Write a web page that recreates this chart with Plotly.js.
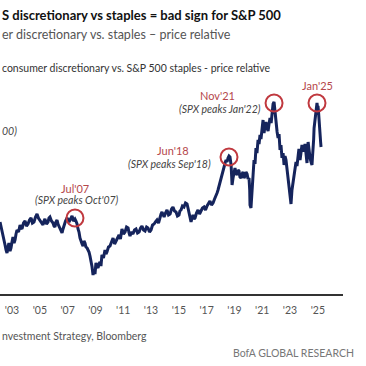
<!DOCTYPE html>
<html>
<head>
<meta charset="utf-8">
<script src="https://cdn.plot.ly/plotly-3.0.1.min.js"></script>
<style>
html,body{margin:0;padding:0;background:#fff;}
#chart{width:366px;height:366px;}
</style>
</head>
<body>
<div id="chart"></div>
<script>
// Relative price: consumer discretionary vs staples (arbitrary index units)
const years = [
2002.14,2002.21,2002.28,2002.35,2002.42,2002.50,2002.57,2002.64,2002.71,2002.78,
2002.86,2002.93,2003.00,2003.07,2003.15,2003.22,2003.29,2003.36,2003.47,2003.58,
2003.65,2003.72,2003.83,2003.94,2004.04,2004.15,2004.26,2004.37,2004.47,2004.58,
2004.69,2004.80,2004.90,2005.01,2005.12,2005.23,2005.30,2005.37,2005.48,2005.59,
2005.66,2005.73,2005.84,2005.95,2006.02,2006.09,2006.16,2006.24,2006.31,2006.38,
2006.49,2006.60,2006.67,2006.74,2006.85,2006.96,2007.03,2007.10,2007.21,2007.32,
2007.42,2007.53,2007.60,2007.68,2007.75,2007.82,2007.89,2007.96,2008.04,2008.11,
2008.18,2008.25,2008.32,2008.40,2008.47,2008.54,2008.61,2008.68,2008.76,2008.83,
2008.90,2008.97,2009.04,2009.12,2009.19,2009.26,2009.33,2009.40,2009.47,2009.58,
2009.69,2009.76,2009.83,2009.94,2010.05,2010.16,2010.27,2010.38,2010.48,2010.59,
2010.70,2010.80,2010.91,2011.02,2011.13,2011.24,2011.35,2011.42,2011.49,2011.59,
2011.70,2011.81,2011.92,2012.03,2012.14,2012.25,2012.35,2012.46,2012.57,2012.68,
2012.78,2012.89,2013.00,2013.11,2013.22,2013.32,2013.43,2013.54,2013.65,2013.72,
2013.79,2013.86,2013.94,2014.04,2014.15,2014.26,2014.37,2014.48,2014.58,2014.69,
2014.80,2014.90,2015.01,2015.08,2015.16,2015.26,2015.37,2015.48,2015.59,2015.66,
2015.73,2015.80,2015.88,2015.95,2016.02,2016.10,2016.17,2016.27,2016.38,2016.49,
2016.60,2016.70,2016.81,2016.92,2017.03,2017.14,2017.24,2017.35,2017.46,2017.57,
2017.68,2017.75,2017.82,2017.89,2017.96,2018.04,2018.11,2018.18,2018.25,2018.33,
2018.40,2018.47,2018.54,2018.61,2018.68,2018.72,2018.76,2018.80,2018.83,2018.87,
2018.90,2018.97,2019.04,2019.11,2019.19,2019.26,2019.33,2019.40,2019.47,2019.55,
2019.62,2019.69,2019.76,2019.83,2019.91,2019.98,2020.05,2020.10,2020.12,2020.19,
2020.23,2020.27,2020.34,2020.41,2020.48,2020.55,2020.62,2020.70,2020.77,2020.84,
2020.91,2020.99,2021.06,2021.10,2021.13,2021.20,2021.27,2021.35,2021.42,2021.49,
2021.56,2021.64,2021.71,2021.78,2021.85,2021.92,2021.99,2022.07,2022.14,2022.21,
2022.28,2022.35,2022.42,2022.50,2022.57,2022.64,2022.71,2022.78,2022.86,2022.93,
2023.00,2023.07,2023.14,2023.21,2023.29,2023.36,2023.43,2023.50,2023.57,2023.64,
2023.72,2023.79,2023.86,2023.93,2024.01,2024.08,2024.15,2024.22,2024.30,2024.37,
2024.44,2024.51,2024.58,2024.62,2024.66,2024.70,2024.73,2024.80,2024.87,2024.94,
2024.98,2025.01,2025.05,2025.09,2025.13,2025.16,2025.20,2025.23
];
const relative = [
72,68,64,60,54,49,44,41,47,51,
43,46,52,57,51,54,60,64,62,69,
66,65,71,73,68,70,74,76,71,72,
77,80,76,74,71,69,73,75,70,72,
76,77,73,71,68,67,72,74,70,68,
64,61,65,69,73,76,74,72,75,78,
73,75,73,70,65,62,56,52,50,48,
53,51,47,46,44,42,38,34,27,19,
24,20,31,28,26,30,32,28,39,36,
44,40,42,47,48,52,56,50,53,57,
59,55,65,60,62,67,66,61,58,62,
60,64,65,61,62,66,68,64,63,67,
66,62,64,69,70,72,74,71,78,80,
82,79,77,81,84,79,80,85,87,83,
82,78,79,83,84,88,87,91,90,86,
81,76,72,76,79,75,76,81,84,80,
83,86,87,84,88,91,93,89,91,95,
98,101,104,108,112,115,118,124,129,131,
134,132,136,138,137,133,129,118,109,113,
116,122,126,121,119,124,123,117,116,120,
122,116,118,122,120,115,116,104,89,86,
97,109,120,134,130,146,141,154,150,159,
155,169,174,165,161,168,172,166,163,170,
176,171,182,190,192,182,168,162,156,160,
144,149,136,141,129,138,134,125,116,104,
94,90,104,112,119,125,132,128,139,145,
134,140,149,143,144,150,137,131,152,143,
136,132,129,138,144,155,166,176,184,191,
186,188,182,176,165,159,152,147
];
const peakYears = [2007.53, 2018.61, 2021.85, 2024.94];
const peakValues = [76, 137, 191, 191];
const peakMonths = ["Jul'07", "Jun'18", "Nov'21", "Jan'25"];
const spxPeaks = ["(SPX peaks Oct'07)", "(SPX peaks Sep'18)", "(SPX peaks Jan'22)", ""];
const tickYears = [2003,2005,2007,2009,2011,2013,2015,2017,2019,2021,2023,2025];
const tickLabels = ["'03","'05","'07","'09","'11","'13","'15","'17","'19","'21","'23","'25"];

// label placement (data coords)
const monthLabelPos = [[2007.53,106],[2014.55,144],[2017.81,199],[2024.94,209]];
const spxLabelPos = [[2007.67,94],[2014.35,130],[2017.95,185]];

const navy = '#15245c';
const red = '#c0393f';
const font = 'Lato, "Open Sans", sans-serif';

const traces = [
  {x: years, y: relative, type: 'scatter', mode: 'lines',
   line: {color: navy, width: 3}, hoverinfo: 'skip'},
  {x: peakYears, y: peakValues, type: 'scatter', mode: 'markers',
   marker: {symbol: 'circle-open', size: 17, color: red, line: {color: red, width: 2}},
   hoverinfo: 'skip'}
];

const annotations = [];
peakMonths.forEach((m, i) => {
  annotations.push({x: monthLabelPos[i][0], y: monthLabelPos[i][1], xref: 'x', yref: 'y',
    text: m, showarrow: false, xanchor: 'center', yanchor: 'middle',
    font: {family: font, size: 11, color: '#b5474b'}});
});
spxPeaks.forEach((s, i) => {
  if (!s) return;
  annotations.push({x: spxLabelPos[i][0], y: spxLabelPos[i][1], xref: 'x', yref: 'y',
    text: '<i>' + s + '</i>', showarrow: false, xanchor: 'center', yanchor: 'middle',
    font: {family: font, size: 10.5, color: '#444'}});
});
annotations.push(
  {xref: 'paper', yref: 'paper', x: 0, y: 1.192, xanchor: 'left', yanchor: 'middle',
   text: '<b>S discretionary vs staples = bad sign for S&P 500</b>', showarrow: false,
   font: {family: font, size: 13, color: '#111'}},
  {xref: 'paper', yref: 'paper', x: 0, y: 1.107, xanchor: 'left', yanchor: 'middle',
   text: 'er discretionary vs. staples – price relative', showarrow: false,
   font: {family: font, size: 12.5, color: '#555'}},
  {xref: 'paper', yref: 'paper', x: 0, y: 0.966, xanchor: 'left', yanchor: 'middle',
   text: 'consumer discretionary vs. S&P 500 staples - price relative', showarrow: false,
   font: {family: font, size: 10.5, color: '#333'}},
  {xref: 'paper', yref: 'paper', x: 0, y: 0.697, xanchor: 'left', yanchor: 'middle',
   text: '<i>00)</i>', showarrow: false,
   font: {family: font, size: 10.5, color: '#444'}},
  {xref: 'paper', yref: 'paper', x: 0, y: -0.179, xanchor: 'left', yanchor: 'middle',
   text: 'nvestment Strategy, Bloomberg', showarrow: false,
   font: {family: font, size: 10.5, color: '#555'}},
  {xref: 'paper', yref: 'paper', x: 0.673, y: -0.252, xanchor: 'left', yanchor: 'middle',
   text: 'BofA GLOBAL RESEARCH', showarrow: false,
   font: {family: font, size: 10.5, color: '#777'}}
);

const layout = {
  width: 366, height: 366,
  margin: {l: 0, r: 23, t: 60, b: 72},
  paper_bgcolor: '#fff', plot_bgcolor: '#fff',
  showlegend: false,
  xaxis: {range: [2002.137, 2026.81], showgrid: false, zeroline: false,
    showline: true, linecolor: '#333', linewidth: 1.5,
    tickmode: 'array', tickvals: tickYears, ticktext: tickLabels, ticks: '',
    ticklabelstandoff: 6,
    tickfont: {family: font, size: 10.5, color: '#555'}, fixedrange: true},
  yaxis: {range: [0, 234], visible: false, fixedrange: true},
  annotations: annotations
};

Plotly.newPlot('chart', traces, layout, {staticPlot: true, displayModeBar: false});
</script>
</body>
</html>
